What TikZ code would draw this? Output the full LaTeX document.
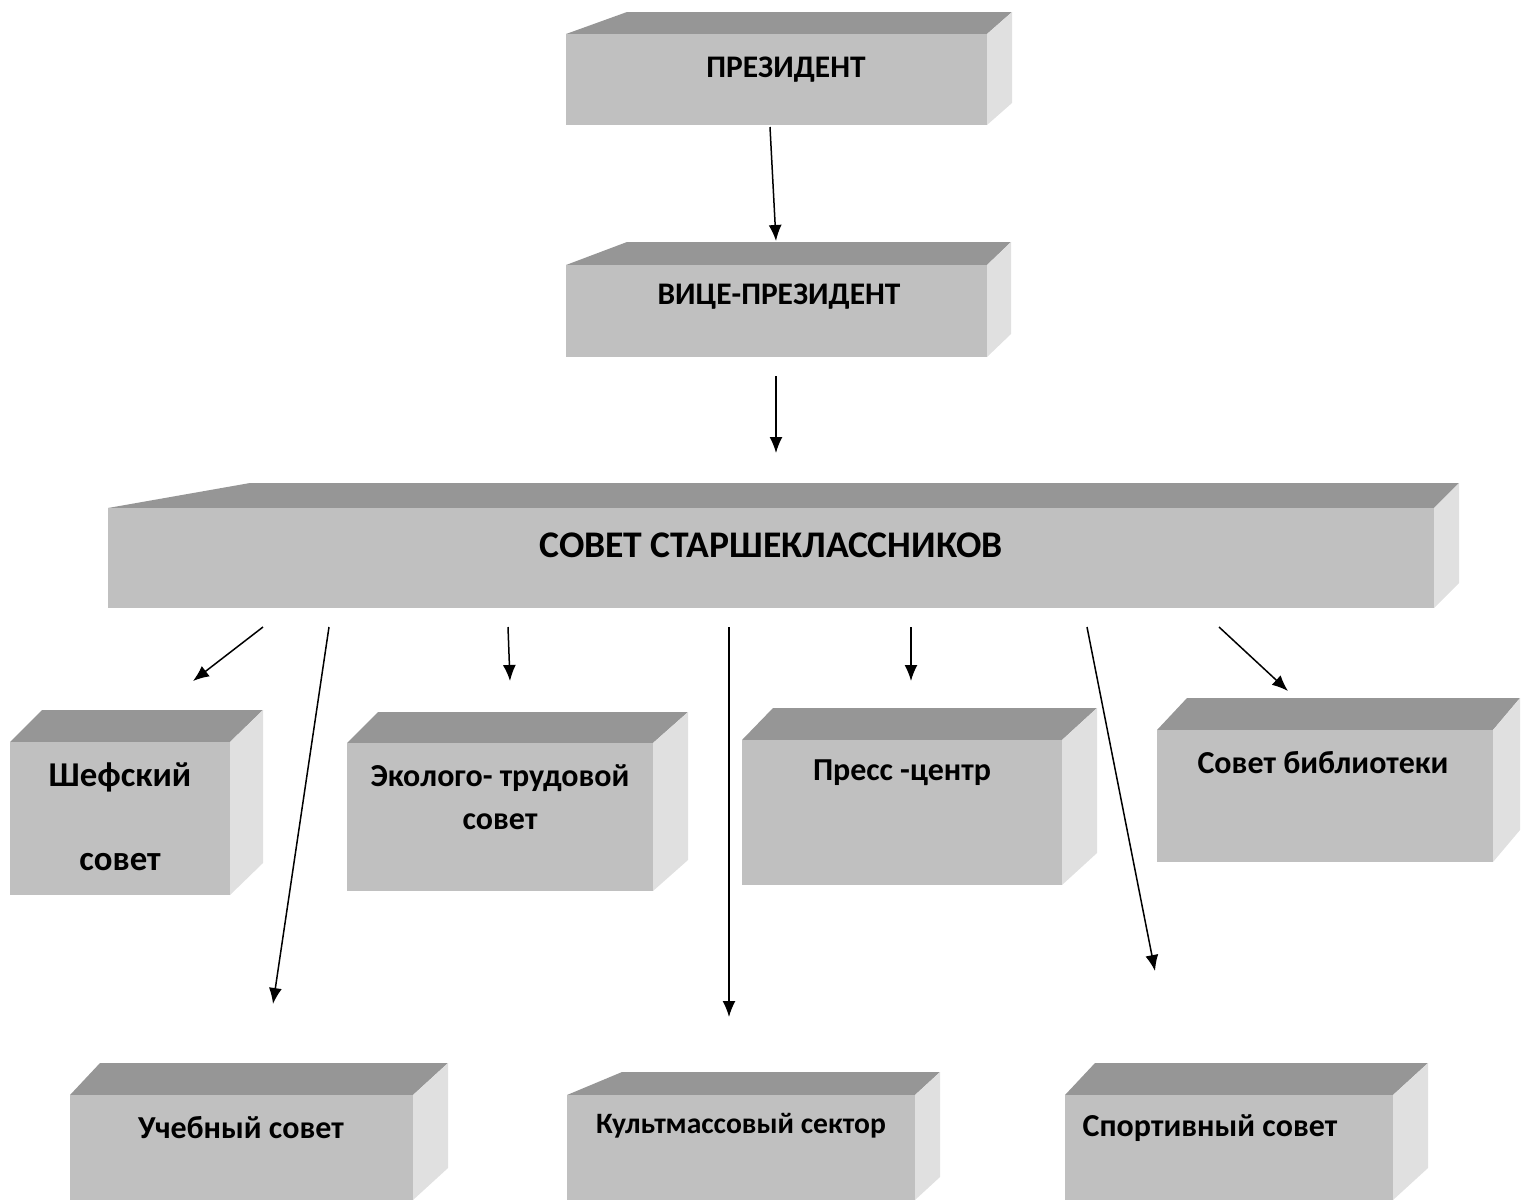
\documentclass[tikz,border=0pt]{standalone}
\usepackage{fontspec}
\setmainfont{Carlito}
\usetikzlibrary{arrows.meta}
\definecolor{frontgray}{HTML}{C0C0C0}
\definecolor{topgray}{HTML}{969696}
\definecolor{sidegray}{HTML}{E0E0E0}
% x0 y0 x1 y1 left-shift depth rise
\newcommand{\cuboid}[7]{%
  \fill[topgray] (#1,#2) -- (#1+#5,#2-#7) -- (#3+#6,#2-#7) -- (#3,#2) -- cycle;
  \fill[sidegray] (#3,#2) -- (#3+#6,#2-#7) -- (#3+#6,#4-#7) -- (#3,#4) -- cycle;
  \fill[frontgray] (#1,#2) rectangle (#3,#4);}
\begin{document}
\begin{tikzpicture}
  [x=0.5pt,y=-0.5pt,
   boxtext/.style={font=\bfseries\fontsize{16}{21.5}\selectfont,align=center,inner sep=0pt},
   >={Latex[length=8pt,width=6.5pt]}]
  \useasboundingbox (0,0) rectangle (1521,1200);
  % boxes
  \cuboid{566}{34}{987}{125}{61}{25}{22}
  \cuboid{566}{265}{987}{357}{61}{24}{23}
  \cuboid{108}{508}{1434}{608}{142}{25}{25}
  \cuboid{10}{742}{230}{895}{32}{33}{32}
  \cuboid{347}{743}{653}{891}{31}{35}{31}
  \cuboid{742}{740}{1062}{885}{31}{35}{32}
  \cuboid{1157}{730}{1493}{862}{30}{27}{32}
  \cuboid{70}{1095}{413}{1200}{30}{35}{32}
  \cuboid{567}{1095}{915}{1200}{55}{25}{23}
  \cuboid{1065}{1095}{1393}{1200}{30}{35}{32}
  % texts
  \node[boxtext,font=\bfseries\fontsize{15.7}{20}\selectfont] (president) at (786,70) {ПРЕЗИДЕНТ};
  \node[boxtext,font=\bfseries\fontsize{15.7}{20}\selectfont] (vice) at (779,297) {ВИЦЕ-ПРЕЗИДЕНТ};
  \node[boxtext,font=\bfseries\fontsize{18.8}{22}\selectfont] (council) at (771,545) {СОВЕТ СТАРШЕКЛАССНИКОВ};
  \node[boxtext,font=\bfseries\fontsize{17.4}{21}\selectfont] (shef1) at (120,777) {Шефский};
  \node[boxtext,font=\bfseries\fontsize{17.4}{21}\selectfont] (shef2) at (120,862) {совет};
  \node[boxtext] (eco) at (500,797) {Эколого- трудовой\\совет};
  \node[boxtext] (press) at (902,773) {Пресс -центр};
  \node[boxtext] (library) at (1323,763) {Совет библиотеки};
  \node[boxtext] (study) at (241,1128) {Учебный совет};
  \node[boxtext,font=\bfseries\fontsize{14.8}{18}\selectfont] (culture) at (741,1126) {Культмассовый сектор};
  \node[boxtext] (sport) at (1210,1128) {Спортивный совет};
  % arrow ends
  \coordinate (a1) at (770,127);  \coordinate (b1) at (776,241);
  \coordinate (a2) at (776,376);  \coordinate (b2) at (776,453);
  \coordinate (a3) at (263,627);  \coordinate (b3) at (193,681);
  \coordinate (a4) at (329,627);  \coordinate (b4) at (273,1004);
  \coordinate (a5) at (508,627);  \coordinate (b5) at (510,681);
  \coordinate (a6) at (729,627);  \coordinate (b6) at (729,1017);
  \coordinate (a7) at (911,627);  \coordinate (b7) at (911,681);
  \coordinate (a8) at (1087,627); \coordinate (b8) at (1155,971);
  \coordinate (a9) at (1219,627); \coordinate (b9) at (1288,691);
  \foreach \i in {1,...,9}
    \draw[->,line width=0.75pt] (a\i)--(b\i);
\end{tikzpicture}
\end{document}
